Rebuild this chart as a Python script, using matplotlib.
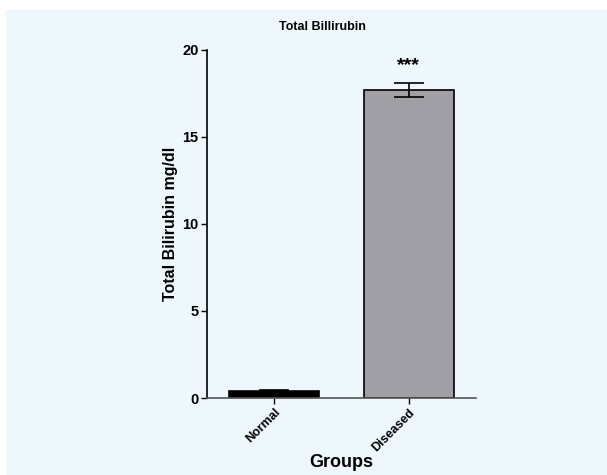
import matplotlib
matplotlib.use('Agg')
import matplotlib.pyplot as plt
from matplotlib.patches import Rectangle

groups = ['Normal', 'Diseased']
means = [0.42, 17.7]
sems = [0.04, 0.42]
bar_colors = ['#000000', '#a19fa6']
yticks = [0, 5, 10, 15, 20]

bg = '#eef7fc'
plt.rcParams['font.family'] = ['Liberation Sans', 'DejaVu Sans']

fig = plt.figure(figsize=(6.07, 4.75), dpi=100)
fig.patch.set_facecolor('white')
fig.patches.append(Rectangle((6 / 607, 0), 1, 1 - 10 / 475, transform=fig.transFigure,
                             facecolor=bg, edgecolor='none', zorder=-10))

ax = fig.add_axes([207 / 607, 1 - 398 / 475, 269 / 607, 348 / 475])
ax.set_facecolor(bg)

x = list(range(len(groups)))
ax.bar(x, means, width=0.67, color=bar_colors, edgecolor='black', linewidth=1.2, zorder=2)
ax.errorbar(x, means, yerr=sems, fmt='none', ecolor='black', elinewidth=1.2,
            capsize=11, capthick=1.2, zorder=3)

ax.text(1, 19.1, '***', ha='center', va='center', fontsize=14, fontweight='bold')

ax.set_xlim(-0.5, 1.5)
ax.set_ylim(0, 20)
ax.set_yticks(yticks)
ax.set_yticklabels([str(t) for t in yticks], fontsize=10.5, fontweight='bold')
ax.set_xticks(x)
ax.set_xticklabels(groups, rotation=45, ha='right', rotation_mode='anchor',
                   fontsize=9, fontweight='bold')
ax.tick_params(axis='both', direction='out', length=4, width=1, pad=2)

for s in ['top', 'right']:
    ax.spines[s].set_visible(False)
ax.spines['left'].set_linewidth(1.2)
ax.spines['bottom'].set_linewidth(1.2)
ax.spines['bottom'].set_color('#555555')

ax.set_ylabel('Total Bilirubin mg/dl', fontsize=11.5, fontweight='bold', labelpad=3)
ax.set_xlabel('Groups', fontsize=13, fontweight='bold', labelpad=0)
fig.text(322 / 607, 1 - 27 / 475, 'Total Billirubin', ha='center', va='center',
         fontsize=9, fontweight='bold')

fig.savefig('out.png', dpi=100, facecolor=fig.get_facecolor())
